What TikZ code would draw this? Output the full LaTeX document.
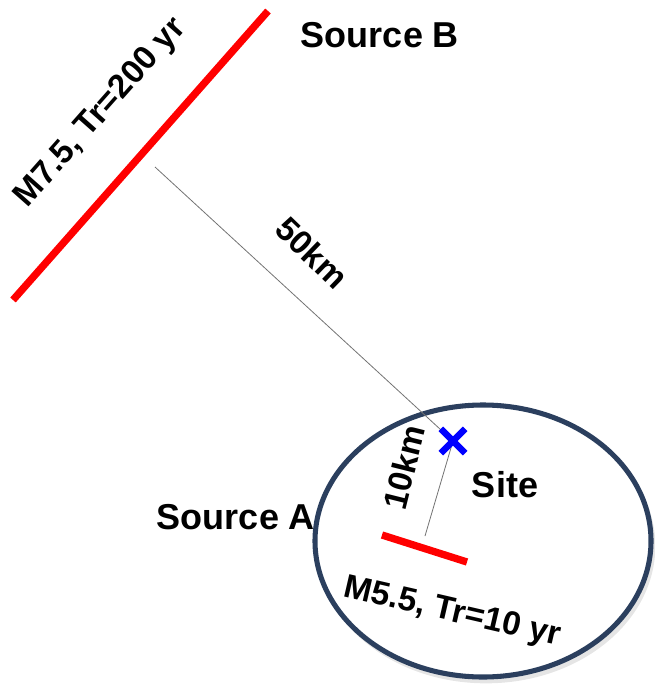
\documentclass[tikz,border=0pt]{standalone}
\usepackage{fontspec}
\setmainfont{Liberation Sans}
\usetikzlibrary{shapes.misc}
\begin{document}
\begin{tikzpicture}[x=0.75pt,y=-0.75pt,
  lbl/.style={font=\bfseries\fontsize{27}{30}\selectfont, text=black, inner sep=0pt},
  slbl/.style={font=\bfseries\fontsize{25}{28}\selectfont, text=black, inner sep=0pt},
  fault/.style={draw=red, line width=5.5pt},
  dist/.style={draw=black!55, line width=0.6pt},
  zone/.style={draw=ringblue, line width=3.8pt},
  sitemark/.style={cross out, draw=blue, line width=4.8pt, minimum size=13.5pt, inner sep=0pt}]
\definecolor{ringblue}{HTML}{2B3F5E}
\useasboundingbox (0,0) rectangle (654,684);
% Source B fault
\coordinate (b1) at (13,300);
\coordinate (b2) at (268,11);
\coordinate (bfoot) at (155,167);
\draw[fault] (b1) -- (b2);
\node[slbl, rotate=48.5] (blabel) at (101,113) {M7.5, Tr=200 yr};
\node[lbl] (sourceB) at (380,35) {Source B};
% Source A
\node[lbl] (sourceA) at (236,517) {Source A};
% zone ellipse with shadow
\fill[black, opacity=0.10] (486,546) ellipse [x radius=127pt, y radius=103pt];
\fill[white] (483,541) ellipse [x radius=126pt, y radius=102pt];
\draw[zone] (483,541) ellipse [x radius=126pt, y radius=102pt];
% site and distances
\coordinate (sitec) at (453,441);
\coordinate (afoot) at (425,536);
\draw[dist] (bfoot) -- (sitec);
\draw[dist] (sitec) -- (afoot);
\node[sitemark] (site) at (sitec) {};
\node[lbl] (sitelabel) at (505,485) {Site};
% Source A fault
\coordinate (a1) at (382,535);
\coordinate (a2) at (467,562);
\draw[fault] (a1) -- (a2);
\node[slbl, rotate=-44] (d50) at (312,253) {50km};
\node[slbl, rotate=76] (d10) at (404,467) {10km};
\node[slbl, rotate=-13] (alabel) at (452,613) {M5.5, Tr=10 yr};
\end{tikzpicture}
\end{document}
